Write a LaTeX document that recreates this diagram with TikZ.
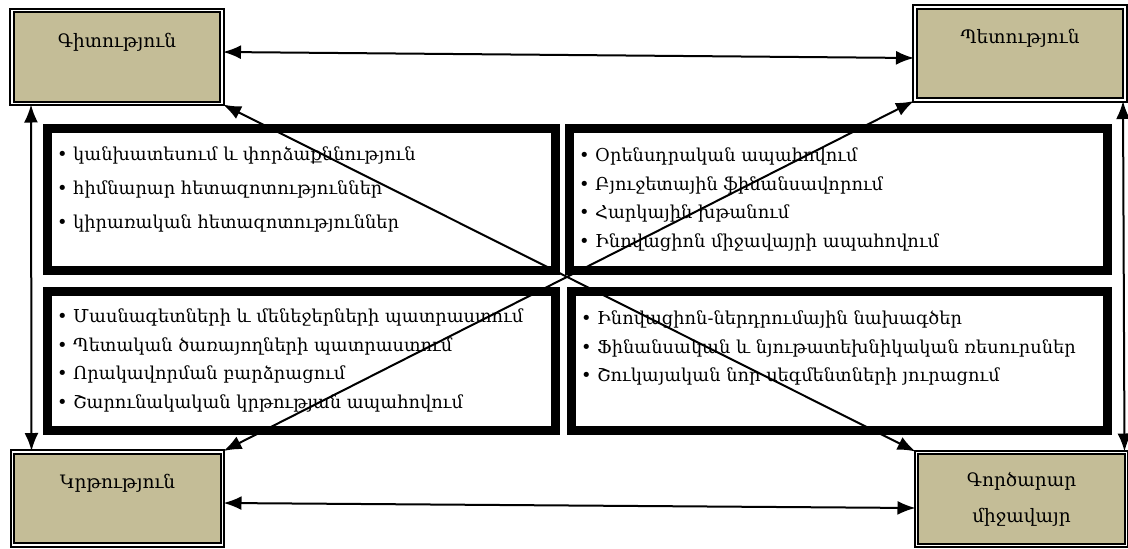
\documentclass[tikz,border=0pt]{standalone}
\usepackage{fontspec}
\setmainfont{DejaVu Serif}
\usepackage{xcolor}
\usetikzlibrary{arrows.meta,positioning}
\definecolor{tan}{HTML}{C4BD97}
\newcommand{\itm}[1]{\makebox[16pt][l]{\textbullet}#1}

\begin{document}
\begin{tikzpicture}[x=1pt,y=-1pt,
 corner/.style={draw,line width=2pt,double=white,double distance=1.5pt,fill=tan,minimum width=210pt,minimum height=93pt,align=center,inner sep=0pt,font=\fontsize{18.5}{36}\selectfont},
 top/.style={corner,text height=14pt,text depth=34pt},
 frame/.style={draw,line width=9pt,inner sep=0pt},
 lst/.style={align=left,inner sep=0pt,anchor=north west,font=\fontsize{17.8}{28.5}\selectfont},
 dbl/.style={{Latex[length=18pt,width=14pt]}-{Latex[length=18pt,width=14pt]},line width=2pt}]
 \useasboundingbox (0,0) rectangle (1128,549);
 \node[top] (sci) at (117,57) {Գիտություն};
 \node[top] (state) at (1020,53.5) {Պետություն};
 \node[top] (edu) at (117.5,498.5) {Կրթություն};
 \node[corner] (bus) at (1021.5,499) {Գործարար\\ միջավայր};
 \node[frame,minimum width=508pt,minimum height=142pt] (scibox) at (301.5,199.5) {};
 \node[frame,minimum width=538pt,minimum height=142pt] (statebox) at (838.5,199.5) {};
 \node[frame,minimum width=508pt,minimum height=139pt] (edubox) at (301.5,361) {};
 \node[frame,minimum width=536pt,minimum height=139pt] (busbox) at (839.5,361) {};
 \node[lst,font=\fontsize{17.8}{34}\selectfont,below right=23pt and 14pt of scibox.north west] (scilist) {\itm{կանխատեսում և փորձաքննություն}\\ \itm{հիմնարար հետազոտություններ}\\ \itm{կիրառական հետազոտություններ}};
 \node[lst,below right=24pt and 14pt of statebox.north west] (statelist) {\itm{Օրենսդրական ապահովում}\\ \itm{Բյուջետային ֆինանսավորում}\\ \itm{Հարկային խթանում}\\ \itm{Ինովացիոն միջավայրի ապահովում}};
 \node[lst,below right=22pt and 14pt of edubox.north west] (edulist) {\itm{Մասնագետների և մենեջերների պատրաստում}\\ \itm{Պետական ծառայողների պատրաստում}\\ \itm{Որակավորման բարձրացում}\\ \itm{Շարունակական կրթության ապահովում}};
 \node[lst,below right=24pt and 14pt of busbox.north west] (buslist) {\itm{Ինովացիոն-ներդրումային նախագծեր}\\ \itm{Ֆինանսական և նյութատեխնիկական ռեսուրսներ}\\ \itm{Շուկայական նոր սեգմենտների յուրացում}};
 \draw[dbl] ([yshift=5pt]sci.east) -- ([yshift=-4.5pt]state.west);
 \draw[dbl] ([yshift=-4.5pt]edu.east) -- ([yshift=-9pt]bus.west);
 \draw[dbl] ([xshift=20pt]sci.south west) -- ([xshift=20pt]edu.north west);
 \draw[dbl] ([xshift=-3pt]state.south east) -- ([xshift=-3pt]bus.north east);
 \draw[dbl] (sci.south east) -- (bus.north west);
 \draw[dbl] (state.south west) -- (edu.north east);
\end{tikzpicture}
\end{document}
